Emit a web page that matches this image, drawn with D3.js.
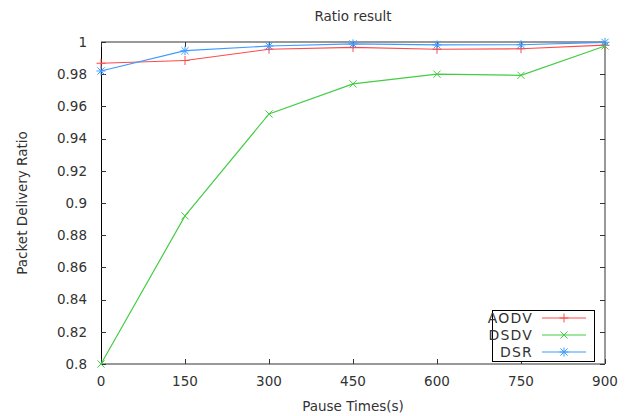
<!DOCTYPE html>
<html>
<head>
<meta charset="utf-8">
<script src="https://cdn.jsdelivr.net/npm/d3@7"></script>
<style>
  body { margin: 0; background: #fff; }
  text { font-family: "DejaVu Sans", sans-serif; fill: #333; }
</style>
</head>
<body>
<script>
// pause times (s) on x
const pauseTimes = [0, 150, 300, 450, 600, 750, 900];
const aodv = [0.9868, 0.9885, 0.9955, 0.9966, 0.9955, 0.9958, 0.998];
const dsdv = [0.8, 0.892, 0.9553, 0.974, 0.980, 0.9793, 0.9975];
const dsr = [0.982, 0.9946, 0.9975, 0.9988, 0.9982, 0.9983, 0.9998];
const yTicks = [0.8, 0.82, 0.84, 0.86, 0.88, 0.9, 0.92, 0.94, 0.96, 0.98, 1];

const series = [
  { name: "AODV", values: aodv, color: "#ff4a4a", marker: "plus" },
  { name: "DSDV", values: dsdv, color: "#44cc44", marker: "cross" },
  { name: "DSR", values: dsr, color: "#3d9bff", marker: "star" },
];

const width = 626, height = 416;
const mLeft = 101, mRight = 605, mTop = 42, mBottom = 364;

const svg = d3.select("body").append("svg")
  .attr("width", width).attr("height", height);

const x = d3.scaleLinear().domain([0, 900]).range([mLeft, mRight]);
const y = d3.scaleLinear().domain([0.8, 1]).range([mBottom, mTop]);

// frame (gnuplot-ish border)
svg.append("line").attr("x1", mLeft).attr("x2", mRight).attr("y1", mTop).attr("y2", mTop)
  .attr("stroke", "#777").attr("stroke-width", 1.5);
svg.append("line").attr("x1", mRight).attr("x2", mRight).attr("y1", mTop).attr("y2", mBottom)
  .attr("stroke", "#777").attr("stroke-width", 1.5);
svg.append("line").attr("x1", mLeft).attr("x2", mRight).attr("y1", mBottom).attr("y2", mBottom)
  .attr("stroke", "#777").attr("stroke-width", 1.5);
svg.append("line").attr("x1", mLeft + 0.5).attr("x2", mLeft + 0.5).attr("y1", mTop).attr("y2", mBottom)
  .attr("stroke", "#000").attr("stroke-width", 1);

// ticks, drawn inward and mirrored
const tl = 5;
const ticks = svg.append("g").attr("stroke", "#333").attr("stroke-width", 1);
yTicks.forEach(v => {
  const yy = Math.round(y(v)) + 0.5;
  ticks.append("line").attr("x1", mLeft).attr("x2", mLeft + tl).attr("y1", yy).attr("y2", yy);
  ticks.append("line").attr("x1", mRight - tl).attr("x2", mRight).attr("y1", yy).attr("y2", yy);
});
pauseTimes.forEach(v => {
  const xx = Math.round(x(v)) + 0.5;
  ticks.append("line").attr("x1", xx).attr("x2", xx).attr("y1", mBottom).attr("y2", mBottom - tl);
  ticks.append("line").attr("x1", xx).attr("x2", xx).attr("y1", mTop).attr("y2", mTop + tl);
});

// tick labels
svg.append("g").selectAll("text").data(yTicks).join("text")
  .attr("x", mLeft - 14).attr("y", d => y(d)).attr("dy", "0.36em")
  .attr("text-anchor", "end").attr("font-size", 13.5)
  .text(d => String(+d.toFixed(2)));
svg.append("g").selectAll("text").data(pauseTimes).join("text")
  .attr("x", d => x(d)).attr("y", mBottom + 17).attr("dy", "0.36em")
  .attr("text-anchor", "middle").attr("font-size", 13.5)
  .text(d => d);

// titles
svg.append("text").attr("x", (mLeft + mRight) / 2).attr("y", 16).attr("dy", "0.36em")
  .attr("text-anchor", "middle").attr("font-size", 13.5).text("Ratio result");
svg.append("text").attr("x", (mLeft + mRight) / 2).attr("y", 406).attr("dy", "0.36em")
  .attr("text-anchor", "middle").attr("font-size", 13.5).text("Pause Times(s)");
svg.append("text").attr("transform", `translate(22,${(mTop + mBottom) / 2}) rotate(-90)`)
  .attr("dy", "0.36em").attr("text-anchor", "middle").attr("font-size", 13.5)
  .text("Packet Delivery Ratio");

function drawMarker(g, cx, cy, kind, color) {
  const s = 4.5;
  const m = g.append("g").attr("stroke", color).attr("stroke-width", 1);
  if (kind === "plus" || kind === "star") {
    m.append("line").attr("x1", cx - s).attr("x2", cx + s).attr("y1", cy).attr("y2", cy);
    m.append("line").attr("x1", cx).attr("x2", cx).attr("y1", cy - s).attr("y2", cy + s);
  }
  if (kind === "cross" || kind === "star") {
    const d = s * 0.8;
    m.append("line").attr("x1", cx - d).attr("x2", cx + d).attr("y1", cy - d).attr("y2", cy + d);
    m.append("line").attr("x1", cx - d).attr("x2", cx + d).attr("y1", cy + d).attr("y2", cy - d);
  }
}

const line = d3.line().x((d, i) => x(pauseTimes[i])).y(d => y(d));
series.forEach(s => {
  const g = svg.append("g");
  g.append("path").attr("d", line(s.values)).attr("fill", "none")
    .attr("stroke", s.color).attr("stroke-width", 1.2);
  s.values.forEach((v, i) => drawMarker(g, x(pauseTimes[i]), y(v), s.marker, s.color));
});

// legend
const lg = svg.append("g");
lg.append("rect").attr("x", 492.5).attr("y", 310.5).attr("width", 102).attr("height", 51)
  .attr("fill", "#fff").attr("stroke", "#000").attr("stroke-width", 1);
series.forEach((s, i) => {
  const yy = 318 + i * 17;
  lg.append("text").attr("x", 533).attr("y", yy).attr("dy", "0.36em")
    .attr("text-anchor", "end").attr("font-size", 14).attr("letter-spacing", 1.2)
    .text(s.name);
  lg.append("line").attr("x1", 542).attr("x2", 586).attr("y1", yy).attr("y2", yy)
    .attr("stroke", s.color).attr("stroke-width", 1.2);
  drawMarker(lg, 564, yy, s.marker, s.color);
});
</script>
</body>
</html>
